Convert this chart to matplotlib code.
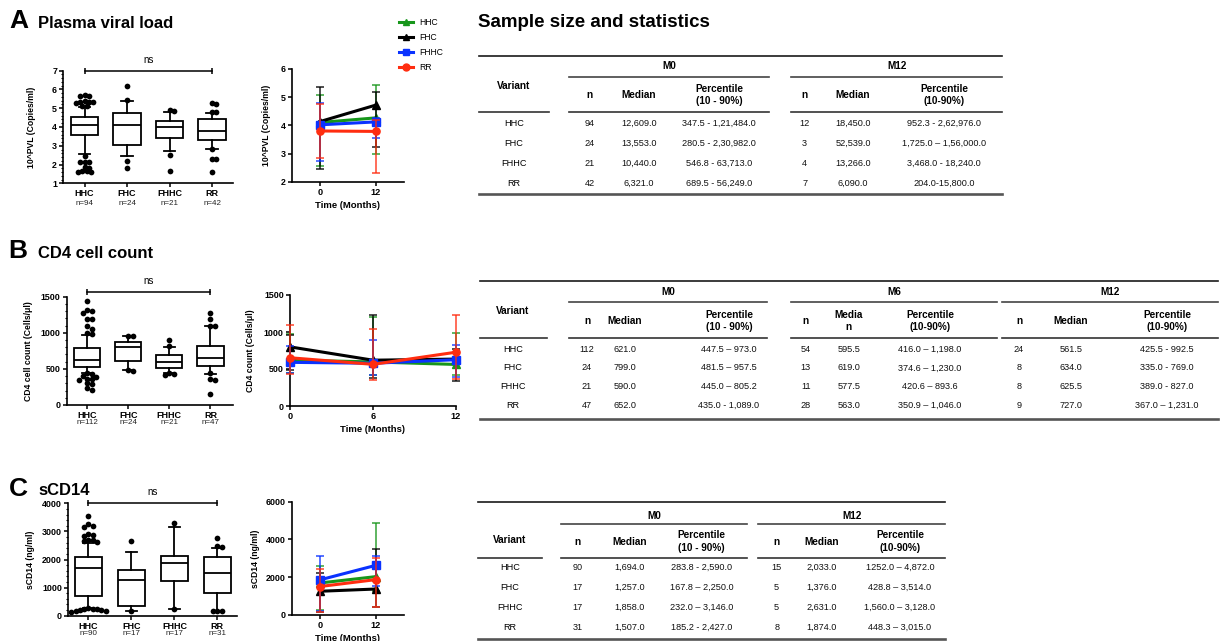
import re
import numpy as np
import matplotlib
matplotlib.use("Agg")
import matplotlib.pyplot as plt
from matplotlib.lines import Line2D
from matplotlib.ticker import AutoMinorLocator

plt.rcParams['font.family'] = ['Liberation Sans', 'DejaVu Sans']
plt.rcParams['axes.unicode_minus'] = False

W, H = 1220, 641

# ------------------------------------------------------------------ data
variants = ['HHC', 'FHC', 'FHHC', 'RR']

# Panel A - plasma viral load (log10) box plot
a_box_q1 = [3.56, 3.05, 3.40, 3.32]
a_box_med = [4.10, 4.13, 4.02, 3.80]
a_box_q3 = [4.55, 4.75, 4.30, 4.45]
a_box_lo = [2.54, 2.45, 2.74, 2.84]
a_box_hi = [5.08, 5.36, 4.80, 4.75]
a_out_hhc = [5.68, 5.66, 5.64, 5.36, 5.34, 5.33, 5.31, 5.30, 5.14, 5.12,
             2.45, 2.16, 2.15, 2.13, 1.85, 1.83, 1.65, 1.63, 1.62, 1.58]
a_out_fhc = [6.2, 5.42, 2.2, 1.8]
a_out_fhhc = [4.92, 4.85, 2.5, 1.65]
a_out_rr = [5.3, 5.25, 4.82, 4.8, 2.85, 2.3, 2.28, 1.6]

# Panel A - table
a_m0_n = [94, 24, 21, 42]
a_m0_median = ['12,609.0', '13,553.0', '10,440.0', '6,321.0']
a_m0_pct = ['347.5 - 1,21,484.0', '280.5 - 2,30,982.0', '546.8 - 63,713.0', '689.5 - 56,249.0']
a_m12_n = [12, 3, 4, 7]
a_m12_median = ['18,450.0', '52,539.0', '13,266.0', '6,090.0']
a_m12_pct = ['952.3 - 2,62,976.0', '1,725.0 \u2013 1,56,000.0', '3,468.0 - 18,240.0', '204.0-15,800.0']
a_months = [0, 12]

# Panel B - CD4 box plot
b_box_q1 = [530, 609, 517, 540]
b_box_med = [621, 799, 590, 652]
b_box_q3 = [785, 877, 693, 821]
b_box_lo = [447, 481, 445, 435]
b_box_hi = [973, 957, 805, 1089]
b_out_hhc = [1440, 1320, 1300, 1270, 1190, 1190, 1100, 1050, 1000, 990,
             440, 430, 395, 390, 360, 355, 350, 300, 295, 235, 210]
b_out_fhc = [962, 960, 478, 476]
b_out_fhhc = [900, 815, 440, 430, 420]
b_out_rr = [1280, 1190, 1100, 1095, 440, 360, 345, 150]

# Panel B - table
b_m0_n = [112, 24, 21, 47]
b_m0_median = ['621.0', '799.0', '590.0', '652.0']
b_m0_pct = ['447.5 \u2013 973.0', '481.5 \u2013 957.5', '445.0 \u2013 805.2', '435.0 - 1,089.0']
b_m6_n = [54, 13, 11, 28]
b_m6_median = ['595.5', '619.0', '577.5', '563.0']
b_m6_pct = ['416.0 \u2013 1,198.0', '374.6 \u2013 1,230.0', '420.6 \u2013 893.6', '350.9 \u2013 1,046.0']
b_m12_n = [24, 8, 8, 9]
b_m12_median = ['561.5', '634.0', '625.5', '727.0']
b_m12_pct = ['425.5 - 992.5', '335.0 - 769.0', '389.0 - 827.0', '367.0 \u2013 1,231.0']
b_months = [0, 6, 12]

# Panel C - sCD14 box plot
c_box_q1 = [712, 356, 1235, 819]
c_box_med = [1694, 1257, 1858, 1507]
c_box_q3 = [2078, 1627, 2137, 2078]
c_box_lo = [284, 168, 232, 185]
c_box_hi = [2590, 2250, 3146, 2427]
c_out_hhc = [3550, 3250, 3200, 3150, 2900, 2870, 2850, 2700, 2680, 2650, 2620,
             260, 250, 240, 235, 220, 200, 170, 150, 130]
c_out_fhc = [2650, 150]
c_out_fhhc = [3300, 230]
c_out_rr = [2750, 2470, 2450, 170, 160, 150]

# Panel C - table
c_m0_n = [90, 17, 17, 31]
c_m0_median = ['1,694.0', '1,257.0', '1,858.0', '1,507.0']
c_m0_pct = ['283.8 - 2,590.0', '167.8 \u2013 2,250.0', '232.0 \u2013 3,146.0', '185.2 - 2,427.0']
c_m12_n = [15, 5, 5, 8]
c_m12_median = ['2,033.0', '1,376.0', '2,631.0', '1,874.0']
c_m12_pct = ['1252.0 \u2013 4,872.0', '428.8 \u2013 3,514.0', '1,560.0 \u2013 3,128.0', '448.3 \u2013 3,015.0']
c_months = [0, 12]

# ------------------------------------------------------------------ style
colors = {'HHC': '#17961b', 'FHC': '#000000', 'FHHC': '#0a32ff', 'RR': '#ff2d10'}
markers = {'HHC': '^', 'FHC': '^', 'FHHC': 's', 'RR': 'o'}


def to_num(s):
    return float(str(s).replace(',', ''))


def split_pct(s):
    return [to_num(p) for p in re.split(r'\s*[-\u2013]\s*', s)]


def series(medians, pcts, log=False):
    m = np.array([to_num(v) for v in medians])
    lohi = np.array([split_pct(p) for p in pcts])
    lo, hi = lohi[:, 0], lohi[:, 1]
    if log:
        return np.log10(m), np.log10(lo), np.log10(hi)
    return m, lo, hi


fig = plt.figure(figsize=(W / 100, H / 100), dpi=100)
ov = fig.add_axes([0, 0, 1, 1])
ov.set_xlim(0, W)
ov.set_ylim(H, 0)
ov.axis('off')


def px_axes(l, t, r, b):
    return fig.add_axes([l / W, 1 - b / H, (r - l) / W, (b - t) / H])


def base_style(ax):
    for s in ['top', 'right']:
        ax.spines[s].set_visible(False)
    for s in ['left', 'bottom']:
        ax.spines[s].set_linewidth(1.2)
    ax.patch.set_alpha(0)
    ax.tick_params(which='major', direction='out', length=3, width=1.1, labelsize=6.4, pad=1.5)
    ax.tick_params(which='minor', direction='out', length=1.8, width=0.8)


def bold_ticks(ax):
    plt.setp(ax.get_xticklabels() + ax.get_yticklabels(), fontweight='bold')


def swarm_x(ax, pos, vals, d=4.3):
    vals = np.asarray(vals, dtype=float)
    pts = ax.transData.transform(np.column_stack([np.full(len(vals), pos), vals]))
    ys = pts[:, 1]
    x0 = pts[0, 0]
    cands = [0.0]
    for j in range(1, 30):
        cands += [j * d * 0.5, -j * d * 0.5]
    placed = []
    off = np.zeros(len(vals))
    for i in np.argsort(-vals):
        y = ys[i]
        for c in cands:
            if all((c - px) ** 2 + (y - py) ** 2 >= d ** 2 for px, py in placed):
                break
        placed.append((c, y))
        off[i] = c
    inv = ax.transData.inverted()
    return inv.transform(np.column_stack([x0 + off, ys]))[:, 0]


def box_panel(rect, q1, med, q3, lo, hi, outs, ns, xlim, ylim, yticks, ylabel,
              ylab_x, bracket_y, n_off):
    ax = px_axes(*rect)
    base_style(ax)
    pos = np.arange(1, 5)
    stats = [dict(med=m, q1=a, q3=b, whislo=l, whishi=h, fliers=[])
             for a, m, b, l, h in zip(q1, med, q3, lo, hi)]
    lw = 1.3
    ax.bxp(stats, positions=pos, widths=0.64, capwidths=0.27, showfliers=False,
           patch_artist=True,
           boxprops=dict(facecolor='white', edgecolor='black', linewidth=lw),
           medianprops=dict(color='black', linewidth=lw),
           whiskerprops=dict(color='black', linewidth=lw),
           capprops=dict(color='black', linewidth=lw))
    ax.set_xlim(*xlim)
    ax.set_ylim(*ylim)
    ax.set_yticks(yticks)
    ax.yaxis.set_minor_locator(AutoMinorLocator(5))
    ax.set_xticks(pos)
    ax.set_xticklabels(variants)
    ax.tick_params(axis='x', labelsize=6.5, pad=1.2)
    bold_ticks(ax)
    for p, vals in zip(pos, outs):
        xs = swarm_x(ax, p, vals)
        ax.scatter(xs, vals, s=17, color='black', zorder=5, clip_on=False, linewidths=0)
    for p, n in zip(pos, ns):
        ax.annotate(f'n={n}', xy=(p, 0), xycoords=('data', 'axes fraction'),
                    xytext=(0, -n_off), textcoords='offset points',
                    ha='center', va='center', fontsize=5.8, color='#222222',
                    annotation_clip=False)
    ax.plot([1, 4], [bracket_y, bracket_y], color='black', lw=1.1,
            marker='|', ms=4.5, mew=1.1, clip_on=False)
    ax.annotate('ns', xy=(2.5, bracket_y), xytext=(0, 8), textcoords='offset points',
                ha='center', va='center', fontsize=7, annotation_clip=False)
    ax.set_ylabel(ylabel, fontsize=6.2, fontweight='bold')
    ax.yaxis.set_label_coords(ylab_x, 0.5)
    return ax


def line_panel(rect, times, data, xlim, ylim, yticks, ylabel, ylab_x, xlab_y):
    ax = px_axes(*rect)
    base_style(ax)
    for k, g in enumerate(variants):
        m, lo, hi = data[g]
        line, caps, bars = ax.errorbar(times, m, yerr=[m - lo, hi - m], color=colors[g],
                                       lw=2.2, marker=markers[g], ms=5.2, capsize=3,
                                       elinewidth=1.3, capthick=1.3, clip_on=False,
                                       zorder=3 + k)
        for c in caps:
            c.set_alpha(0.75)
            c.set_clip_on(False)
        for b in bars:
            b.set_alpha(0.75)
            b.set_clip_on(False)
    ax.set_xlim(*xlim)
    ax.set_ylim(*ylim)
    ax.set_xticks(times)
    ax.set_yticks(yticks)
    ax.tick_params(axis='x', labelsize=6.6)
    bold_ticks(ax)
    ax.set_ylabel(ylabel, fontsize=6.2, fontweight='bold')
    ax.yaxis.set_label_coords(ylab_x, 0.5)
    ax.set_xlabel('Time (Months)', fontsize=6.8, fontweight='bold')
    ax.xaxis.set_label_coords(0.5, xlab_y)
    ax.xaxis.label.set_va('center')
    return ax


def draw_table(cfg, groups, subs, n_cols, med_cols, pct_cols):
    L, R = cfg['lr']
    ov.plot([L, R], [cfg['top']] * 2, color='#1a1a1a', lw=1.2)
    ov.plot([L, R], [cfg['bottom']] * 2, color='#555555', lw=1.9)
    ov.text(cfg['var_x'], cfg['var_y'], 'Variant', fontsize=7.2, fontweight='bold',
            ha='center', va='center')
    ov.plot(cfg['var_line'], [cfg['hdr_bot']] * 2, color='#333333', lw=1.2)
    for gi, gname in enumerate(groups):
        x0, x1 = cfg['spans'][gi]
        ov.text((x0 + x1) / 2, cfg['grp_y'], gname, fontsize=7.2, fontweight='bold',
                ha='center', va='center')
        ov.plot([x0, x1], [cfg['sub_line']] * 2, color='#444444', lw=1.2)
        ov.plot([x0, x1], [cfg['hdr_bot']] * 2, color='#333333', lw=1.2)
        for ci, sh in enumerate(subs[gi]):
            ov.text(cfg['cols'][gi][ci], cfg['sub_y'], sh, fontsize=7.2,
                    fontweight='bold', ha='center', va='center', linespacing=1.35)
    for ri, v in enumerate(variants):
        y = cfg['rows'][ri]
        ov.text(cfg['var_x'], y, v, fontsize=6.6, ha='center', va='center')
        for gi in range(len(groups)):
            cells = [str(n_cols[gi][ri]), med_cols[gi][ri], pct_cols[gi][ri]]
            for ci, txt in enumerate(cells):
                ov.text(cfg['cols'][gi][ci], y, txt, fontsize=6.6, ha='center',
                        va='center', color='#111111')


# ------------------------------------------------------------------ titles
ov.text(9, 28, 'A', fontsize=19, fontweight='bold', va='baseline')
ov.text(38, 28, 'Plasma viral load', fontsize=12, fontweight='bold', va='baseline')
ov.text(478, 27, 'Sample size and statistics', fontsize=13.5, fontweight='bold', va='baseline')
ov.text(8, 258, 'B', fontsize=19, fontweight='bold', va='baseline')
ov.text(38, 258, 'CD4 cell count', fontsize=12, fontweight='bold', va='baseline')
ov.text(9, 496, 'C', fontsize=19, fontweight='bold', va='baseline')
ov.text(38, 495, 'sCD14', fontsize=12, fontweight='bold', va='baseline')

# ------------------------------------------------------------------ panel A
box_panel((63.3, 70.7, 233.3, 183.3), a_box_q1, a_box_med, a_box_q3, a_box_lo, a_box_hi,
          [a_out_hhc, a_out_fhc, a_out_fhhc, a_out_rr], a_m0_n,
          (0.5, 4.5), (1, 7), [1, 2, 3, 4, 5, 6, 7], '10^PVL (Copies/ml)', -0.16, 7, 14.4)

a_data = {}
for i, g in enumerate(variants):
    m0 = series([a_m0_median[i]], [a_m0_pct[i]], log=True)
    m12 = series([a_m12_median[i]], [a_m12_pct[i]], log=True)
    a_data[g] = tuple(np.concatenate([x, y]) for x, y in zip(m0, m12))
line_panel((291.7, 69, 404, 181.7), a_months, a_data, (-6, 18), (2, 6), [2, 3, 4, 5, 6],
           '10^PVL (Copies/ml)', -0.18, -0.215)

handles = [Line2D([], [], color=colors[g], lw=2.2, marker=markers[g], ms=5) for g in variants]
fig.legend(handles, variants, loc='upper left', bbox_to_anchor=(399 / W, 1 - 18 / H),
           frameon=False, fontsize=6.2, handlelength=1.6, handletextpad=0.8,
           labelspacing=0.68, borderpad=0, borderaxespad=0)

draw_table(dict(lr=(479, 1002), top=55.5, bottom=193.5, var_x=514, var_y=86,
                var_line=(479, 548.6), hdr_bot=111.5, grp_y=66, sub_line=77, sub_y=95,
                spans=[(569.3, 769.3), (791.4, 1002)],
                cols=[[589.6, 639, 719], [804.6, 853, 944]],
                rows=[123, 143, 163, 183.5]),
           ['M0', 'M12'],
           [['n', 'Median', 'Percentile\n(10 - 90%)'], ['n', 'Median', 'Percentile\n(10-90%)']],
           [a_m0_n, a_m12_n], [a_m0_median, a_m12_median], [a_m0_pct, a_m12_pct])

# ------------------------------------------------------------------ panel B
box_panel((66.7, 296.7, 233, 405), b_box_q1, b_box_med, b_box_q3, b_box_lo, b_box_hi,
          [b_out_hhc, b_out_fhc, b_out_fhhc, b_out_rr], b_m0_n,
          (0.5, 4.55), (0, 1500), [0, 500, 1000, 1500], 'CD4 cell count (Cells/\u03bcl)',
          -0.2, 1570, 12.7)

b_data = {}
for i, g in enumerate(variants):
    parts = [series([med[i]], [pct[i]]) for med, pct in
             [(b_m0_median, b_m0_pct), (b_m6_median, b_m6_pct), (b_m12_median, b_m12_pct)]]
    b_data[g] = tuple(np.concatenate([p[k] for p in parts]) for k in range(3))
line_panel((290, 295, 456, 406), b_months, b_data, (0, 12), (0, 1500), [0, 500, 1000, 1500],
           'CD4 count (Cells/\u03bcl)', -0.21, -0.215)

draw_table(dict(lr=(480, 1218), top=281, bottom=419, var_x=513, var_y=311,
                var_line=(480, 547), hdr_bot=338.3, grp_y=292.3, sub_line=302, sub_y=321,
                spans=[(568.6, 767.4), (791, 997), (1002, 1218)],
                cols=[[587, 625, 729], [805.7, 848.8, 930], [1019, 1071, 1167]],
                rows=[349, 368, 386.7, 405.5]),
           ['M0', 'M6', 'M12'],
           [['n', 'Median', 'Percentile\n(10 - 90%)'], ['n', 'Media\nn', 'Percentile\n(10-90%)'],
            ['n', 'Median', 'Percentile\n(10-90%)']],
           [b_m0_n, b_m6_n, b_m12_n], [b_m0_median, b_m6_median, b_m12_median],
           [b_m0_pct, b_m6_pct, b_m12_pct])

# ------------------------------------------------------------------ panel C
box_panel((68.3, 503.3, 236.7, 615.7), c_box_q1, c_box_med, c_box_q3, c_box_lo, c_box_hi,
          [c_out_hhc, c_out_fhc, c_out_fhhc, c_out_rr], c_m0_n,
          (0.53, 4.45), (0, 4000), [0, 1000, 2000, 3000, 4000], 'sCD14 (ng/ml)',
          -0.2, 4000, 12.5)

c_data = {}
for i, g in enumerate(variants):
    m0 = series([c_m0_median[i]], [c_m0_pct[i]])
    m12 = series([c_m12_median[i]], [c_m12_pct[i]])
    c_data[g] = tuple(np.concatenate([x, y]) for x, y in zip(m0, m12))
line_panel((291.7, 501.7, 404, 615), c_months, c_data, (-6, 18), (0, 6000),
           [0, 2000, 4000, 6000], 'sCD14 (ng/ml)', -0.28, -0.205)

draw_table(dict(lr=(478.3, 945), top=501.7, bottom=639, var_x=510, var_y=540,
                var_line=(478.3, 541.7), hdr_bot=558.3, grp_y=515.7, sub_line=524.3,
                sub_y=541.7, spans=[(560.7, 747.3), (758.3, 945)],
                cols=[[577.3, 629.3, 701.7], [776.7, 821.7, 900]],
                rows=[567.7, 587.7, 607.7, 627.7]),
           ['M0', 'M12'],
           [['n', 'Median', 'Percentile\n(10 - 90%)'], ['n', 'Median', 'Percentile\n(10-90%)']],
           [c_m0_n, c_m12_n], [c_m0_median, c_m12_median], [c_m0_pct, c_m12_pct])

fig.savefig('out.png', dpi=100)
